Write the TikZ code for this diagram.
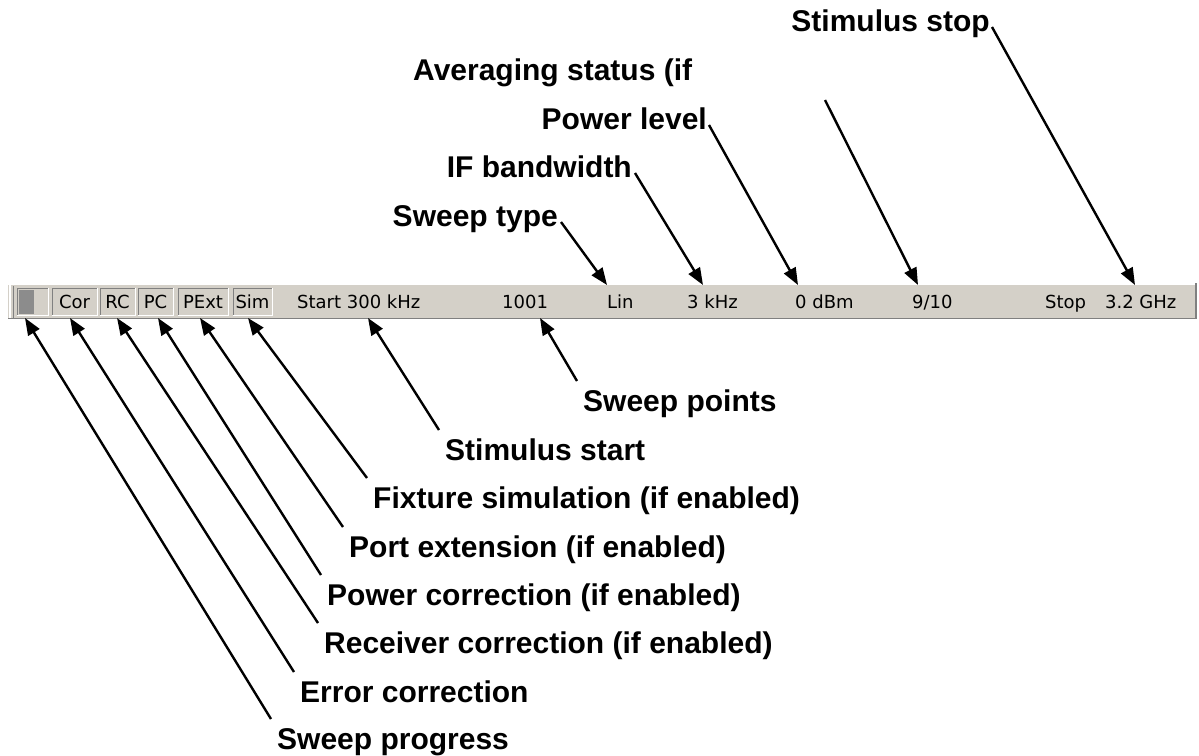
\documentclass[tikz,border=0pt]{standalone}
\usepackage{fontspec}
\setmainfont{Liberation Sans}
\newfontfamily\barfont{DejaVu Sans}
\usetikzlibrary{arrows.meta}
\definecolor{face}{RGB}{212,208,200}
\definecolor{shadow}{RGB}{128,128,128}
\definecolor{prog}{RGB}{140,140,140}
\begin{document}
\begin{tikzpicture}[x=1pt,y=-1pt,
  lab/.style={font=\bfseries\fontsize{30}{30}\selectfont, inner sep=0pt},
  bt/.style={font=\barfont\fontsize{18}{18}\selectfont, inner sep=0pt, text=black},
  arr/.style={line width=2.4pt, -{Triangle[length=17pt,width=13pt]}},
]
\useasboundingbox (0,0) rectangle (1199,755);
\fill[white] (0,0) rectangle (1199,755);
% status bar
\fill[face] (8,283) rectangle (1197,319);
\draw[white, line width=1.5pt] (8,284) -- (1195,284);
\draw[white, line width=1.5pt] (10,284) -- (10,319);
\draw[shadow, line width=1pt] (13,286) -- (13,319);
\draw[shadow, line width=1.5pt] (1196,283) -- (1196,319);
\draw[shadow, line width=1pt] (8,318.5) -- (1197,318.5);
\fill[prog] (19,290) rectangle (34,314);
\foreach \a/\b in {17/48,52/97,100/135,138/173,178/228,233/272}{
  \draw[shadow, line width=1pt] (\a,315) -- (\a,288) -- (\b,288);
  \draw[white, line width=1pt] (\a,315) -- (\b,315) -- (\b,288);
}
\node[bt, anchor=base] (cor) at (74.5,308) {Cor};
\node[bt, anchor=base] (rc) at (117.5,308) {RC};
\node[bt, anchor=base] (pc) at (155.5,308) {PC};
\node[bt, anchor=base] (pext) at (203,308) {PExt};
\node[bt, anchor=base] (sim) at (252.5,308) {Sim};
\node[bt, anchor=base west] (start) at (297,308) {Start 300 kHz};
\node[bt, anchor=base west] (pts) at (502,308) {1001};
\node[bt, anchor=base west] (lin) at (607,308) {Lin};
\node[bt, anchor=base west] (ifbw) at (687,308) {3 kHz};
\node[bt, anchor=base west] (pwr) at (795,308) {0 dBm};
\node[bt, anchor=base west] (avg) at (912,308) {9/10};
\node[bt, anchor=base west] (stop) at (1045,308) {Stop\hspace{19pt}3.2 GHz};
% tips on the bar
\coordinate (tLin) at (607,285);
\coordinate (tIf) at (703,285);
\coordinate (tPwr) at (798,285);
\coordinate (tAvg) at (918,285);
\coordinate (tStop) at (1135,285);
\coordinate (tProg) at (25,318);
\coordinate (tCor) at (70,318);
\coordinate (tRc) at (117,318);
\coordinate (tPc) at (158,318);
\coordinate (tPext) at (200,318);
\coordinate (tSim) at (248,318);
\coordinate (tStart) at (368,318);
\coordinate (tPts) at (540,318);
\coordinate (avgstart) at (825,100);
% top labels
\node[lab, anchor=base east] (Lstop) at (990,31) {Stimulus stop};
\node[lab, anchor=base west] (Lavg) at (413,80) {Averaging status (if};
\node[lab, anchor=base east] (Lpwr) at (707,129) {Power level};
\node[lab, anchor=base east] (Lif) at (632,177) {IF bandwidth};
\node[lab, anchor=base east] (Lswt) at (558,226) {Sweep type};
% bottom labels
\node[lab, anchor=base west] (Lpts) at (583,411) {Sweep points};
\node[lab, anchor=base west] (Lstart) at (445,460) {Stimulus start};
\node[lab, anchor=base west] (Lsim) at (373,508) {Fixture simulation (if enabled)};
\node[lab, anchor=base west] (Lpext) at (349,557) {Port extension (if enabled)};
\node[lab, anchor=base west] (Lpc) at (327,605) {Power correction (if enabled)};
\node[lab, anchor=base west] (Lrc) at (324,653) {Receiver correction (if enabled)};
\node[lab, anchor=base west] (Lcor) at (300,702) {Error correction};
\node[lab, anchor=base west] (Lprog) at (277,749) {Sweep progress};
% arrows
\draw[arr] ([xshift=2pt,yshift=4pt]Lstop.base east) -- (tStop);
\draw[arr] (avgstart) -- (tAvg);
\draw[arr] ([xshift=2pt,yshift=4pt]Lpwr.base east) -- (tPwr);
\draw[arr] ([xshift=3pt,yshift=4pt]Lif.base east) -- (tIf);
\draw[arr] ([xshift=3pt,yshift=4pt]Lswt.base east) -- (tLin);
\foreach \l/\t in {Lpts/tPts,Lstart/tStart,Lsim/tSim,Lpext/tPext,Lpc/tPc,Lrc/tRc,Lcor/tCor,Lprog/tProg}{
  \draw[arr] ([xshift=-6pt,yshift=30pt]\l.base west) -- (\t);
}
\end{tikzpicture}
\end{document}
